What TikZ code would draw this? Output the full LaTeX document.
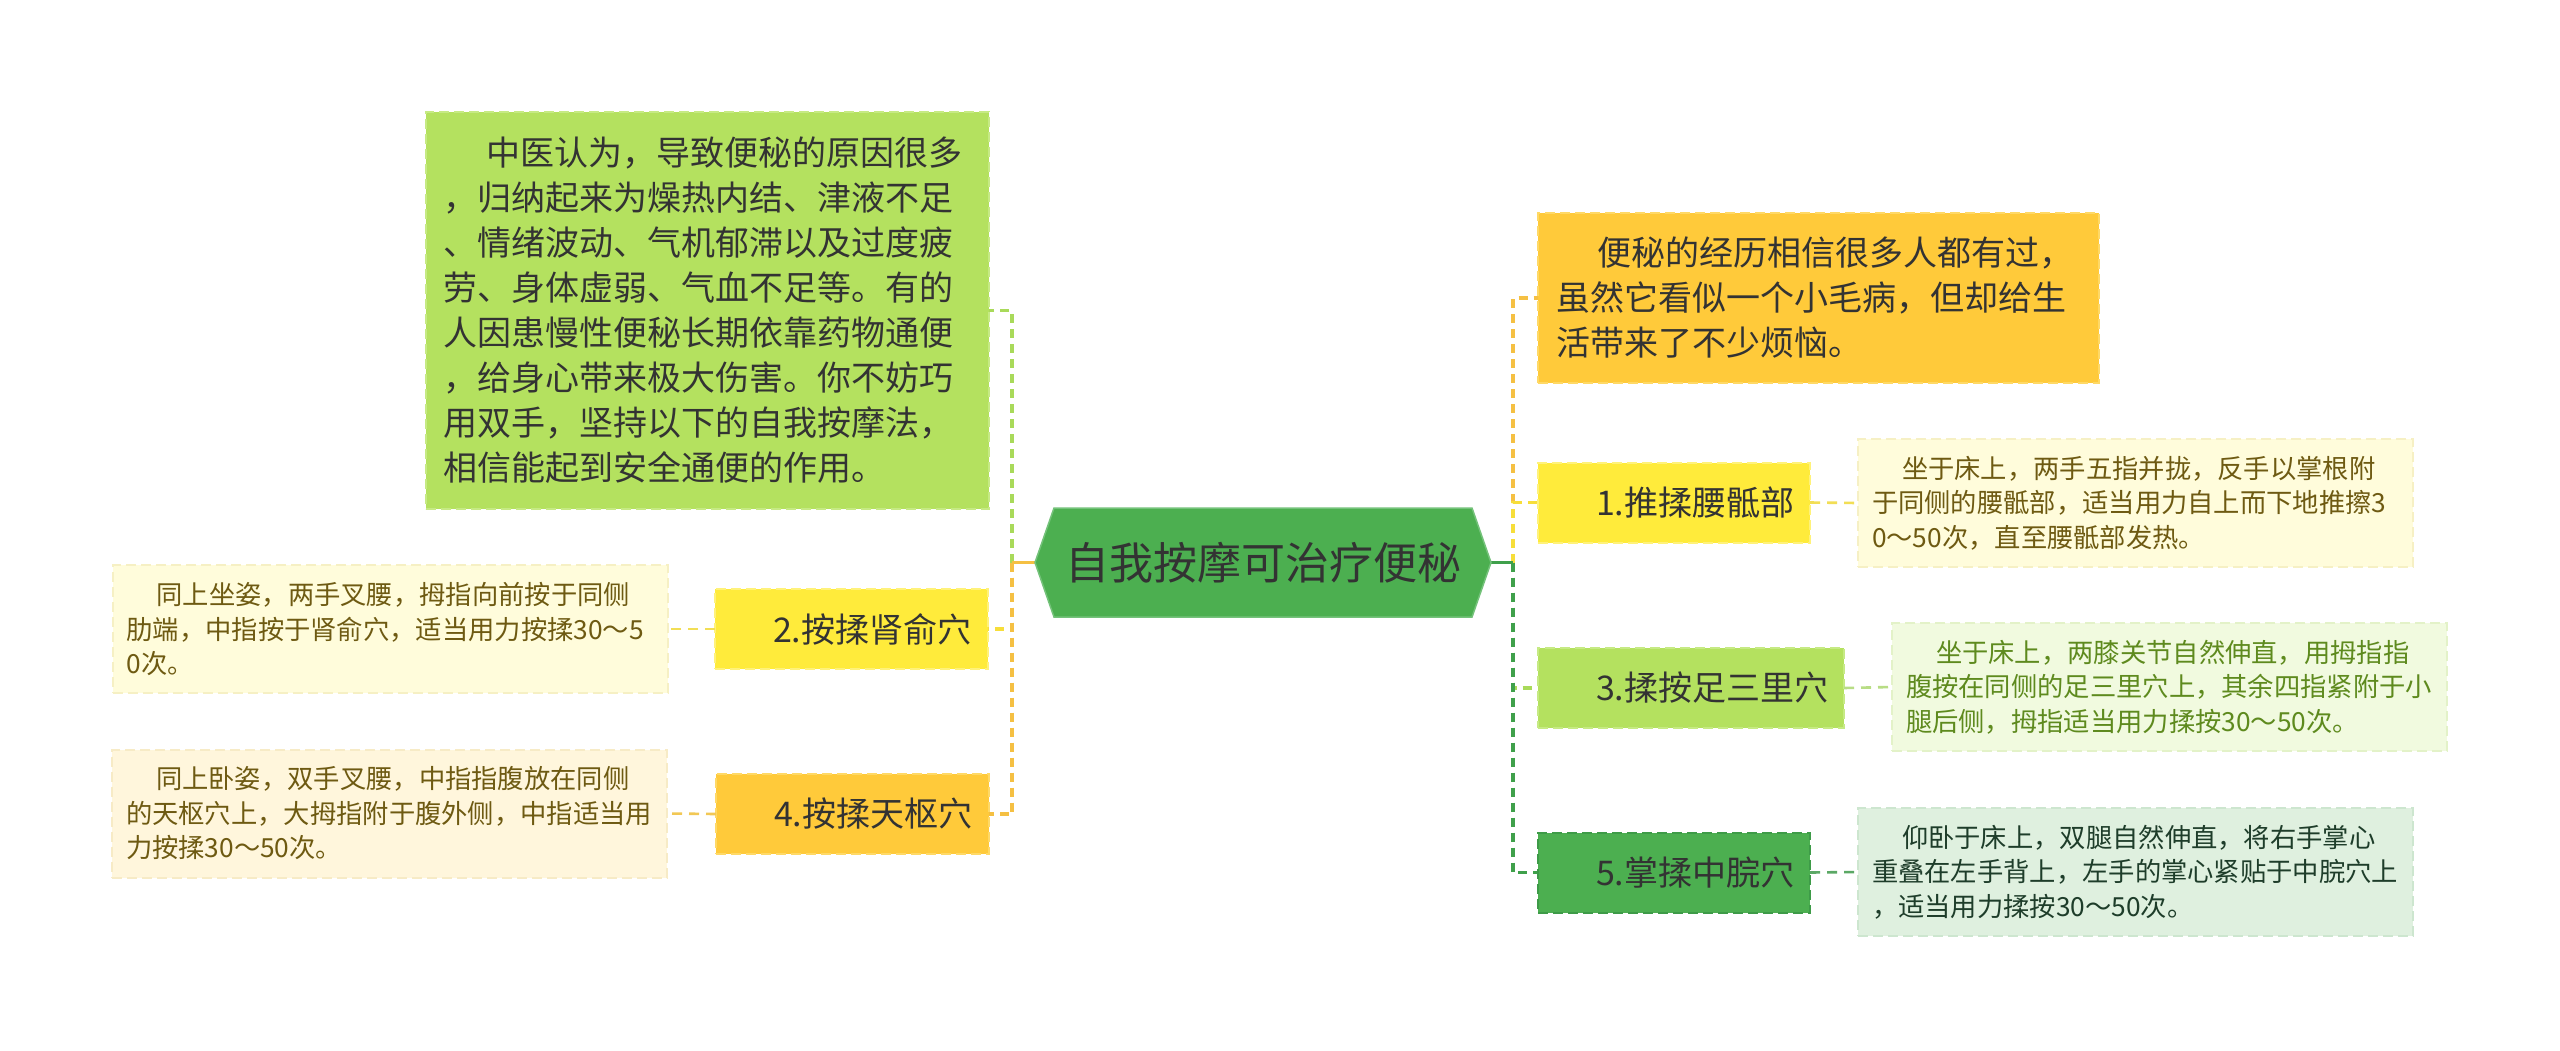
\documentclass[tikz,border=0pt]{standalone}
\usepackage{fontspec}
\setmainfont{Noto Sans CJK SC}
\usetikzlibrary{backgrounds}
\definecolor{cGreen}{HTML}{4CAF50}
\definecolor{cGreenB}{HTML}{74C27A}
\definecolor{cLime}{HTML}{B4E15F}
\definecolor{cLimeB}{HTML}{C6EA84}
\definecolor{cYel}{HTML}{FFEB3B}
\definecolor{cYelB}{HTML}{FFF27A}
\definecolor{cAmb}{HTML}{FFCA3A}
\definecolor{cAmbB}{HTML}{FFD966}
\definecolor{cDG}{HTML}{4CAF50}
\definecolor{cDGB}{HTML}{3E9B48}
\definecolor{dYel}{HTML}{FFFCDB}
\definecolor{dYelB}{HTML}{F6F0C4}
\definecolor{dAmb}{HTML}{FFF6DC}
\definecolor{dAmbB}{HTML}{F7EBC6}
\definecolor{dLime}{HTML}{F1FADF}
\definecolor{dLimeB}{HTML}{E3F2C8}
\definecolor{dGrn}{HTML}{DFF0DF}
\definecolor{dGrnB}{HTML}{CDE6CF}
\definecolor{tDark}{HTML}{333333}
\definecolor{tOlive}{HTML}{6E5A12}
\definecolor{tLime}{HTML}{5E8A1E}
\definecolor{tGreen}{HTML}{1E3D2A}
\definecolor{lLime}{HTML}{A9DA5A}
\definecolor{lYel}{HTML}{F7DE3A}
\definecolor{lAmb}{HTML}{F5C043}
\definecolor{lDG}{HTML}{3FA04B}
\definecolor{kYel}{HTML}{F2DE55}
\definecolor{kAmb}{HTML}{F2C855}
\definecolor{kLime}{HTML}{B8DD85}
\definecolor{kDG}{HTML}{5BA865}
\begin{document}
\begin{tikzpicture}[x=1pt,y=-1pt,
  every node/.style={inner sep=0pt, outer sep=0pt},
  boxline/.style={line width=2pt, dash pattern=on 10pt off 5pt},
  bigbox/.style={rectangle, align=left, inner xsep=17pt, inner ysep=0pt,
    font=\fontsize{34}{45}\selectfont, text=tDark, boxline},
  topicbox/.style={rectangle, align=left, inner xsep=17pt, inner ysep=0pt,
    minimum height=80pt, font=\fontsize{34}{45}\selectfont, text=tDark, boxline},
  descbox/.style={rectangle, align=left, inner xsep=14pt, inner ysep=0pt,
    text width=527pt, minimum height=128pt,
    font=\fontsize{26.3}{34.5}\selectfont, boxline},
  spine/.style={line width=3.3pt, dash pattern=on 9pt off 6pt},
  stub/.style={line width=3.3pt},
  linkline/.style={line width=2.6pt, dash pattern=on 10pt off 7pt}
]
\useasboundingbox (0,0) rectangle (2560,1050);

% central topic
\node[font=\fontsize{44}{50}\selectfont, text=tDark,
      minimum width=456pt, minimum height=109pt] (c) at (1263,562.5) {自我按摩可治疗便秘};

% left side
\node[bigbox, fill=cLime, draw=cLimeB, text width=529pt, minimum height=397pt] (g0) at (707.5,310.5)
 {\hspace*{43pt}中医认为，导致便秘的原因很多\\，归纳起来为燥热内结、津液不足\\、情绪波动、气机郁滞以及过度疲\\劳、身体虚弱、气血不足等。有的\\人因患慢性便秘长期依靠药物通便\\，给身心带来极大伤害。你不妨巧\\用双手，坚持以下的自我按摩法，\\相信能起到安全通便的作用。};
\node[topicbox, fill=cYel, draw=cYelB, text width=239pt] (n2) at (851.5,629) {\hspace*{41pt}2.按揉肾俞穴};
\node[topicbox, fill=cAmb, draw=cAmbB, text width=239pt] (n4) at (852.5,814) {\hspace*{41pt}4.按揉天枢穴};
\node[descbox, fill=dYel, draw=dYelB, text=tOlive] (d2) at (390,629)
 {\hspace*{30pt}同上坐姿，两手叉腰，拇指向前按于同侧\\肋端，中指按于肾俞穴，适当用力按揉30～5\\0次。};
\node[descbox, fill=dAmb, draw=dAmbB, text=tOlive] (d4) at (389.5,813.5)
 {\hspace*{30pt}同上卧姿，双手叉腰，中指指腹放在同侧\\的天枢穴上，大拇指附于腹外侧，中指适当用\\力按揉30～50次。};

% right side
\node[bigbox, fill=cAmb, draw=cAmbB, inner xsep=18pt, text width=525pt, minimum height=170pt] (o0) at (1818.5,298)
 {\hspace*{41pt}便秘的经历相信很多人都有过，\\虽然它看似一个小毛病，但却给生\\活带来了不少烦恼。};
\node[topicbox, fill=cYel, draw=cYelB, text width=238pt] (n1) at (1674,502.5) {\hspace*{41pt}1.推揉腰骶部};
\node[topicbox, fill=cLime, draw=cLimeB, text width=272pt] (n3) at (1691,688) {\hspace*{41pt}3.揉按足三里穴};
\node[topicbox, fill=cDG, draw=cDGB, text width=238pt] (n5) at (1674,872.5) {\hspace*{41pt}5.掌揉中脘穴};
\node[descbox, fill=dYel, draw=dYelB, text=tOlive] (d1) at (2135.5,503)
 {\hspace*{30pt}坐于床上，两手五指并拢，反手以掌根附\\于同侧的腰骶部，适当用力自上而下地推擦3\\0～50次，直至腰骶部发热。};
\node[descbox, fill=dLime, draw=dLimeB, text=tLime] (d3) at (2169.5,687)
 {\hspace*{30pt}坐于床上，两膝关节自然伸直，用拇指指\\腹按在同侧的足三里穴上，其余四指紧附于小\\腿后侧，拇指适当用力揉按30～50次。};
\node[descbox, fill=dGrn, draw=dGrnB, text=tGreen] (d5) at (2135.5,872)
 {\hspace*{30pt}仰卧于床上，双腿自然伸直，将右手掌心\\重叠在左手背上，左手的掌心紧贴于中脘穴上\\，适当用力揉按30～50次。};

\coordinate (Ls) at (1012,562.5);
\coordinate (Rs) at (1513,562.5);

\begin{scope}[on background layer]
  \fill[white] (0,0) rectangle (2560,1050);
  % left branches
  \draw[spine, lLime] (c.west -| Ls) |- (g0.east);
  \draw[spine, lYel] (c.west -| Ls) |- (n2.east);
  \draw[spine, lAmb] (c.west -| Ls) |- (n4.east);
  \draw[stub, lAmb] (c.west) -- (c.west -| Ls);
  % right branches
  \draw[spine, lAmb] (c.east -| Rs) |- (o0.west);
  \draw[spine, lYel] (c.east -| Rs) |- (n1.west);
  \draw[spine, lLime] (c.east -| Rs) |- (n3.west);
  \draw[spine, lDG] (c.east -| Rs) |- (n5.west);
  \draw[stub, lDG] (c.east) -- (c.east -| Rs);
  % central hexagon
  \filldraw[fill=cGreen, draw=cGreenB, line width=1.5pt]
    (c.west) -- ([xshift=19pt]c.north west) -- ([xshift=-19pt]c.north east) --
    (c.east) -- ([xshift=-19pt]c.south east) -- ([xshift=19pt]c.south west) -- cycle;
\end{scope}

% topic to description links
\draw[linkline, kYel] (n2.west) -- (d2.east);
\draw[linkline, kAmb] (n4.west) -- (d4.east);
\draw[linkline, kYel] (n1.east) -- (d1.west);
\draw[linkline, kLime] (n3.east) -- (d3.west);
\draw[linkline, kDG] (n5.east) -- (d5.west);
\end{tikzpicture}
\end{document}
